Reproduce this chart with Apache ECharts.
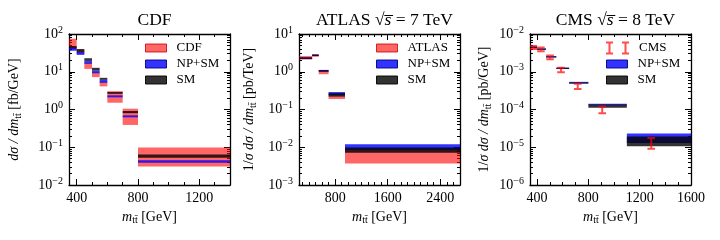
<!DOCTYPE html>
<html><head><meta charset="utf-8">
<script src="https://cdn.jsdelivr.net/npm/echarts@6/dist/echarts.min.js"></script>
<style>html,body{margin:0;padding:0;background:#fff}#c{width:720px;height:240px}</style>
</head><body><div id="c"></div><script>
// ---------- CDF (dσ/dm, fb/GeV) ----------
const cdfEdges  = [350, 400, 450, 500, 550, 600, 700, 800, 1400];
const cdfDataLo = [40, 30, 11.9, 7.2, 4.1, 1.51, 0.39, 0.031];
const cdfDataHi = [75, 37, 17.2, 9.7, 5.5, 3.06, 1.05, 0.099];
const cdfNpLo   = [36, 28, 16.2, 9.1, 5.1, 2.1, 0.62, 0.039];
const cdfNpHi   = [43, 33.5, 19.4, 10.7, 6.1, 2.37, 0.70, 0.045];
const cdfSmLo   = [42, 33.5, 19.4, 10.7, 6.1, 2.6, 0.80, 0.053];
const cdfSmHi   = [48, 40, 22.8, 12.7, 6.9, 2.9, 0.91, 0.064];
const cdfXMajor = [400, 800, 1200];
const cdfXMinor = [500, 600, 700, 900, 1000, 1100, 1300];

// ---------- ATLAS 7 TeV ----------
const atlasEdges  = [250, 450, 550, 700, 950, 2700];
const atlasDataLo = [2.1, 2.5, 0.86, 0.19, 0.0037];
const atlasDataHi = [2.6, 2.95, 1.06, 0.236, 0.0085];
const atlasNpLo   = [2.2, 2.65, 1.02, 0.24, 0.0085];
const atlasNpHi   = [2.4, 2.85, 1.12, 0.29, 0.012];
const atlasSmLo   = [2.2, 2.6, 1.0, 0.22, 0.0071];
const atlasSmHi   = [2.4, 2.8, 1.1, 0.27, 0.0098];
const atlasXMajor = [800, 1600, 2400];
const atlasXMinor = [300, 400, 500, 600, 700, 900, 1000, 1100, 1200, 1300, 1400, 1500, 1700, 1800, 1900, 2000, 2100, 2200, 2300, 2500, 2600];

// ---------- CMS 8 TeV ----------
const cmsEdges   = [345, 400, 470, 550, 650, 800, 1100, 1600];
const cmsNpLo    = [4.3e-3, 3.85e-3, 2.4e-3, 1.2e-3, 5.0e-4, 1.3e-4, 1.3e-5];
const cmsNpHi    = [4.7e-3, 4.15e-3, 2.6e-3, 1.3e-3, 5.4e-4, 1.42e-4, 2.3e-5];
const cmsSmLo    = [4.2e-3, 3.8e-3, 2.38e-3, 1.18e-3, 4.8e-4, 1.12e-4, 1.07e-5];
const cmsSmHi    = [4.6e-3, 4.1e-3, 2.55e-3, 1.26e-3, 5.2e-4, 1.35e-4, 1.94e-5];
const cmsPointX  = [370, 430, 501, 587, 717, 908, 1290];
const cmsPointLo = [4.0e-3, 3.5e-3, 2.15e-3, 0.97e-3, 3.5e-4, 8.0e-5, 9.1e-6];
const cmsPointHi = [4.8e-3, 4.4e-3, 2.7e-3, 1.27e-3, 4.8e-4, 1.2e-4, 1.76e-5];
const cmsXMajor  = [400, 800, 1200, 1600];
const cmsXMinor  = [500, 600, 700, 900, 1000, 1100, 1300, 1400, 1500];

const FONT = 'Liberation Serif';
const RED = 'rgba(255,0,0,0.6)';
const BLUE = 'rgba(0,0,255,0.8)';
const BLACK = 'rgba(0,0,0,0.8)';
const ERR = 'rgba(255,0,0,0.7)';

function bands(edges, lo, hi) { return lo.map((l, i) => [edges[i], edges[i + 1], l, hi[i]]); }
function minorExps(yMin, yMax) {
  const out = [];
  for (let k = Math.round(Math.log10(yMin)); k < Math.round(Math.log10(yMax)); k++)
    for (let m = 2; m <= 9; m++) out.push(k + Math.log10(m));
  return out;
}

function bandRender(params, api) {
  const p0 = api.coord([api.value(0), api.value(3)]);
  const p1 = api.coord([api.value(1), api.value(2)]);
  const cs = params.coordSys;
  const r = echarts.graphic.clipRectByRect(
    { x: p0[0], y: p0[1], width: p1[0] - p0[0], height: p1[1] - p0[1] },
    { x: cs.x, y: cs.y, width: cs.width, height: cs.height });
  if (!r) return;
  return { type: 'rect', shape: r, style: { fill: api.visual('color') } };
}
function errRender(params, api) {
  const top = api.coord([api.value(0), api.value(2)]);
  const bot = api.coord([api.value(0), api.value(1)]);
  const x = top[0], yt = top[1], yb = bot[1];
  const c = 3.8, s = 1;
  const pts = [[x - c, yt - 1], [x + c, yt - 1], [x + c, yt + 1], [x + s, yt + 1], [x + s, yb - 1], [x + c, yb - 1],
    [x + c, yb + 1], [x - c, yb + 1], [x - c, yb - 1], [x - s, yb - 1], [x - s, yt + 1], [x - c, yt + 1]];
  return { type: 'polygon', shape: { points: pts }, style: { fill: ERR } };
}

const subSty = { fontFamily: FONT, fontSize: 10, padding: [7, 0, 0, 0] };
const itSty = { fontFamily: FONT, fontSize: 14, fontStyle: 'italic' };
const panels = [
  { left: 69, xMin: 350, xMax: 1400, yMin: 1e-2, yMax: 1e2, xMajor: cdfXMajor, xMinor: cdfXMinor,
    yName: '{it|dσ / dm}{sub|tt̄} [fb/GeV]', yGap: 46,
    title: 'CDF' },
  { left: 299, xMin: 250, xMax: 2700, yMin: 1e-3, yMax: 1e1, xMajor: atlasXMajor, xMinor: atlasXMinor,
    yName: '1/{it|σ dσ / dm}{sub|tt̄} [pb/TeV]', yGap: 41,
    title: 'ATLAS {it|√s̅} = 7 TeV' },
  { left: 530, xMin: 345, xMax: 1600, yMin: 1e-6, yMax: 1e-2, xMajor: cmsXMajor, xMinor: cmsXMinor,
    yName: '1/{it|σ dσ / dm}{sub|tt̄} [pb/GeV]', yGap: 37,
    title: 'CMS {it|√s̅} = 8 TeV' }
];

const grid = [], xAxis = [], yAxis = [], title = [];
const lineSty = { color: '#000', width: 1.3 };
panels.forEach((p, i) => {
  grid.push({ left: p.left, top: 34, width: 161, height: 151 });
  title.push({ text: p.title, left: p.left + 80.5, textAlign: 'center', top: 6,
    textStyle: { fontFamily: FONT, fontSize: 17.5, fontWeight: 'normal', color: '#000',
      rich: { it: { fontFamily: FONT, fontSize: 17.5, fontStyle: 'italic', color: '#000' } } } });
  const xb = { type: 'value', gridIndex: i, min: p.xMin, max: p.xMax, splitLine: { show: false } };
  xAxis.push(Object.assign({}, xb, { position: 'bottom',
    axisLine: { show: true, onZero: false, lineStyle: lineSty },
    axisTick: { show: true, inside: true, length: 6, lineStyle: { color: '#000', width: 1 }, customValues: p.xMajor },
    axisLabel: { show: true, customValues: p.xMajor, margin: 6, fontFamily: FONT, fontSize: 14, color: '#000',
      formatter: v => String(v) },
    name: '{it|m}{sub|tt̄} [GeV]', nameLocation: 'middle', nameGap: 23,
    nameTextStyle: { fontFamily: FONT, fontSize: 14, color: '#000', rich: { it: itSty, sub: subSty } } }));
  xAxis.push(Object.assign({}, xb, { position: 'top',
    axisLine: { show: true, onZero: false, lineStyle: lineSty },
    axisTick: { show: true, inside: true, length: 6, lineStyle: { color: '#000', width: 1 }, customValues: p.xMajor },
    axisLabel: { show: false } }));
  ['bottom', 'top'].forEach(pos => xAxis.push(Object.assign({}, xb, { position: pos,
    axisLine: { show: false, onZero: false },
    axisTick: { show: true, inside: true, length: 3, lineStyle: { color: '#000', width: 1 }, customValues: p.xMinor },
    axisLabel: { show: false } })));

  const yb = { type: 'log', logBase: 10, gridIndex: i, min: p.yMin, max: p.yMax, splitLine: { show: false } };
  yAxis.push(Object.assign({}, yb, { position: 'left',
    axisLine: { show: true, onZero: false, lineStyle: lineSty },
    axisTick: { show: true, inside: true, length: 6, lineStyle: { color: '#000', width: 1 } },
    axisLabel: { show: true, margin: 6, fontFamily: FONT, fontSize: 14, color: '#000',
      formatter: v => { const e = Math.round(Math.log10(v)); return '10{sup|' + (e < 0 ? '−' : '') + Math.abs(e) + '}'; },
      rich: { sup: { fontFamily: FONT, fontSize: 10, padding: [0, 0, 8, 0], color: '#000' } } },
    name: p.yName, nameLocation: 'middle', nameRotate: 90, nameGap: p.yGap,
    nameTextStyle: { fontFamily: FONT, fontSize: 14, color: '#000', rich: { it: itSty, sub: subSty } } }));
  yAxis.push(Object.assign({}, yb, { position: 'right',
    axisLine: { show: true, onZero: false, lineStyle: lineSty },
    axisTick: { show: true, inside: true, length: 6, lineStyle: { color: '#000', width: 1 } },
    axisLabel: { show: false } }));
  const lmin = Math.log10(p.yMin), lmax = Math.log10(p.yMax);
  ['left', 'right'].forEach(pos => yAxis.push({ type: 'value', gridIndex: i, min: lmin, max: lmax, position: pos,
    splitLine: { show: false }, axisLine: { show: false, onZero: false },
    axisTick: { show: true, inside: true, length: 3, lineStyle: { color: '#000', width: 1 }, customValues: minorExps(p.yMin, p.yMax) },
    axisLabel: { show: false } }));
});

function bandSeries(name, idx, data, color) {
  return { type: 'custom', name, xAxisIndex: idx * 4, yAxisIndex: idx * 4, renderItem: bandRender,
    itemStyle: { color }, encode: { x: [0, 1], y: [2, 3] }, data, clip: true, silent: true };
}
const series = [
  bandSeries('CDF', 0, bands(cdfEdges, cdfDataLo, cdfDataHi), RED),
  bandSeries('NP+SM', 0, bands(cdfEdges, cdfNpLo, cdfNpHi), BLUE),
  bandSeries('SM', 0, bands(cdfEdges, cdfSmLo, cdfSmHi), BLACK),
  bandSeries('ATLAS', 1, bands(atlasEdges, atlasDataLo, atlasDataHi), RED),
  bandSeries('NP+SM', 1, bands(atlasEdges, atlasNpLo, atlasNpHi), BLUE),
  bandSeries('SM', 1, bands(atlasEdges, atlasSmLo, atlasSmHi), BLACK),
  bandSeries('NP+SM', 2, bands(cmsEdges, cmsNpLo, cmsNpHi), BLUE),
  bandSeries('SM', 2, bands(cmsEdges, cmsSmLo, cmsSmHi), BLACK),
  { type: 'custom', name: 'CMS', xAxisIndex: 8, yAxisIndex: 8, renderItem: errRender, itemStyle: { color: ERR },
    encode: { x: 0, y: [1, 2] }, data: cmsPointX.map((x, i) => [x, cmsPointLo[i], cmsPointHi[i]]), clip: true, silent: true }
];

const legText = { fontFamily: FONT, fontSize: 13, color: '#000', lineHeight: 16, padding: [0, 0, 0, 5] };
const patch = (name, color, border) => ({ name, icon: 'rect', itemStyle: { color, borderColor: border, borderWidth: 1 } });
const legBase = { orient: 'vertical', itemWidth: 21, itemHeight: 8, itemGap: 0, padding: 0, selectedMode: false, textStyle: legText };
const legend = [
  Object.assign({}, legBase, { left: 145, top: 40, data: [patch('CDF', RED, 'rgba(200,0,0,0.8)'), patch('NP+SM', BLUE, 'rgba(0,0,120,0.9)'), patch('SM', BLACK, 'rgba(0,0,0,0.9)')] }),
  Object.assign({}, legBase, { left: 376, top: 40, data: [patch('ATLAS', RED, 'rgba(200,0,0,0.8)'), patch('NP+SM', BLUE, 'rgba(0,0,120,0.9)'), patch('SM', BLACK, 'rgba(0,0,0,0.9)')] }),
  Object.assign({}, legBase, { left: 606, top: 40, itemWidth: 23, itemHeight: 13,
    data: [{ name: 'CMS', icon: 'path://M0,0H7V2H4.5V11H7V13H0V11H2.5V2H0ZM16,0H23V2H20.5V11H23V13H16V11H18.5V2H16Z', itemStyle: { color: ERR } }] }),
  Object.assign({}, legBase, { left: 606, top: 56, data: [patch('NP+SM', BLUE, 'rgba(0,0,120,0.9)'), patch('SM', BLACK, 'rgba(0,0,0,0.9)')] })
];

const chart = echarts.init(document.getElementById('c'), null, { renderer: 'canvas' });
chart.setOption({ animation: false, backgroundColor: '#fff', title, grid, xAxis, yAxis, legend, series });
</script></body></html>
